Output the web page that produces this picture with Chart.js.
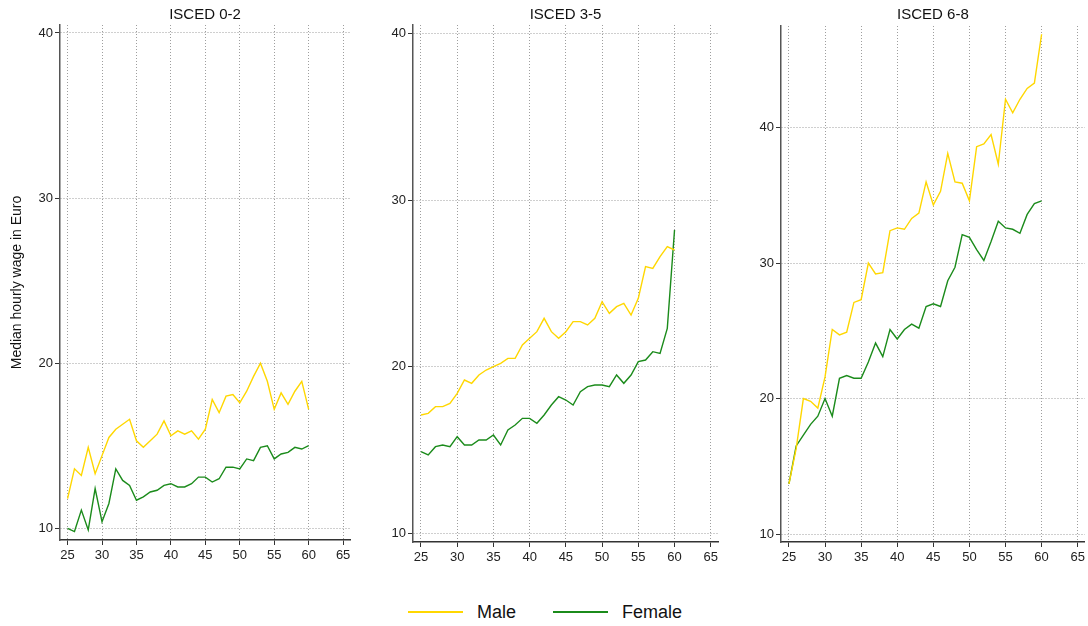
<!DOCTYPE html>
<html>
<head>
<meta charset="utf-8">
<script src="https://cdn.jsdelivr.net/npm/chart.js@4.4.1/dist/chart.umd.min.js"></script>
<style>
  body { margin: 0; background: #fff; font-family: "Liberation Sans", Arial, sans-serif; }
  #wrap { position: relative; width: 1088px; height: 626px; overflow: hidden; }
  .panel { position: absolute; top: 0; }
  .legend-line { position: absolute; height: 2px; top: 611px; width: 55px; }
  .legend-text { position: absolute; top: 601px; font-size: 18px; color: #111; line-height: 22px; }
</style>
</head>
<body>
<div id="wrap">
  <div class="panel" style="left:0px;width:360px;height:580px"><canvas id="p1"></canvas></div>
  <div class="panel" style="left:360px;width:370px;height:582px"><canvas id="p2"></canvas></div>
  <div class="panel" style="left:730px;width:358px;height:582px"><canvas id="p3"></canvas></div>

  <div class="legend-line" style="left:408px;background:#FFD700"></div>
  <div class="legend-text" style="left:477px">Male</div>
  <div class="legend-line" style="left:553px;background:#1b8b1b"></div>
  <div class="legend-text" style="left:622px">Female</div>
</div>
<script>
// Age on the x axis
const ages = [25, 26, 27, 28, 29, 30, 31, 32, 33, 34, 35, 36, 37, 38, 39, 40, 41, 42,
              43, 44, 45, 46, 47, 48, 49, 50, 51, 52, 53, 54, 55, 56, 57, 58, 59, 60];

const xTicks = [25, 30, 35, 40, 45, 50, 55, 60, 65];
const yTicks = [10, 20, 30, 40];
const panelTitles = ['ISCED 0-2', 'ISCED 3-5', 'ISCED 6-8'];

// Median hourly wage, ISCED 0-2
const maleLow = [11.8, 13.6, 13.2, 14.9, 13.3, 14.4, 15.5, 16.0, 16.3, 16.6, 15.3, 14.9,
                 15.3, 15.7, 16.5, 15.6, 15.9, 15.7, 15.9, 15.4, 16.0, 17.8, 17.0, 18.0,
                 18.1, 17.6, 18.3, 19.2, 20.0, 18.9, 17.2, 18.2, 17.5, 18.3, 18.9, 17.2];
const femaleLow = [10.0, 9.8, 11.1, 9.9, 12.4, 10.4, 11.5, 13.6, 12.9, 12.6, 11.7, 11.9,
                   12.2, 12.3, 12.6, 12.7, 12.5, 12.5, 12.7, 13.1, 13.1, 12.8, 13.0, 13.7,
                   13.7, 13.6, 14.2, 14.1, 14.9, 15.0, 14.2, 14.5, 14.6, 14.9, 14.8, 15.0];

// ISCED 3-5
const maleMid = [17.1, 17.2, 17.6, 17.6, 17.8, 18.4, 19.2, 19.0, 19.5, 19.8, 20.0, 20.2,
                 20.5, 20.5, 21.3, 21.7, 22.1, 22.9, 22.1, 21.7, 22.1, 22.7, 22.7, 22.5,
                 22.9, 23.9, 23.2, 23.6, 23.8, 23.1, 24.1, 26.0, 25.9, 26.6, 27.2, 27.0];
const femaleMid = [14.9, 14.7, 15.2, 15.3, 15.2, 15.8, 15.3, 15.3, 15.6, 15.6, 15.9, 15.3,
                   16.2, 16.5, 16.9, 16.9, 16.6, 17.1, 17.7, 18.2, 18.0, 17.7, 18.5, 18.8,
                   18.9, 18.9, 18.8, 19.5, 19.0, 19.5, 20.3, 20.4, 20.9, 20.8, 22.3, 28.2];

// ISCED 6-8
const maleHigh = [13.7, 16.3, 20.0, 19.8, 19.3, 21.6, 25.1, 24.7, 24.9, 27.1, 27.3, 30.0,
                  29.2, 29.3, 32.4, 32.6, 32.5, 33.3, 33.7, 36.0, 34.3, 35.3, 38.1, 36.0,
                  35.9, 34.6, 38.6, 38.8, 39.5, 37.3, 42.1, 41.1, 42.1, 42.9, 43.3, 46.9];
const femaleHigh = [13.7, 16.5, 17.3, 18.1, 18.7, 20.0, 18.7, 21.5, 21.7, 21.5, 21.5, 22.7,
                    24.1, 23.1, 25.1, 24.4, 25.1, 25.5, 25.2, 26.8, 27.0, 26.8, 28.7, 29.7,
                    32.1, 31.9, 31.0, 30.2, 31.6, 33.1, 32.6, 32.5, 32.2, 33.6, 34.4, 34.6];

const MALE_COLOR = '#FFD700';
const FEMALE_COLOR = '#1b8b1b';
const FONT = "'Liberation Sans', Arial, sans-serif";

const toPoints = vals => vals.map((v, i) => ({ x: ages[i], y: v }));

// shared grid look: dotted light grey lines, solid dark tick marks
const gridOpts = () => ({
  color: 'rgba(0,0,0,0.38)', lineWidth: 1,
  tickColor: '#333', tickLength: 5, tickBorderDash: []
});

function makePanel(id, title, male, female, opts) {
  const ctx = document.getElementById(id).getContext('2d');
  return new Chart(ctx, {
    type: 'line',
    data: {
      datasets: [
        { label: 'Male', data: toPoints(male), borderColor: MALE_COLOR, borderWidth: 1.4,
          pointRadius: 0, tension: 0, fill: false },
        { label: 'Female', data: toPoints(female), borderColor: FEMALE_COLOR, borderWidth: 1.4,
          pointRadius: 0, tension: 0, fill: false }
      ]
    },
    options: {
      responsive: true,
      maintainAspectRatio: false,
      animation: false,
      layout: { padding: { right: opts.padRight, left: 0, top: 0, bottom: 0 } },
      plugins: {
        legend: { display: false },
        tooltip: { enabled: false },
        title: {
          display: true,
          text: title,
          fullSize: false,
          color: '#111',
          font: { family: FONT, size: 15, weight: 'normal' },
          padding: { top: 6, bottom: opts.titleBottom }
        }
      },
      scales: {
        x: {
          type: 'linear',
          min: 23.9,
          max: 66,
          afterBuildTicks: s => { s.ticks = xTicks.map(v => ({ value: v })); },
          afterFit: s => { s.height = 40; },
          ticks: { color: '#222', font: { family: FONT, size: 13 }, padding: 3, maxRotation: 0 },
          grid: gridOpts(),
          border: { display: true, color: '#333', width: 1.5, dash: [1, 2] }
        },
        y: {
          type: 'linear',
          min: opts.yMin,
          max: opts.yMax,
          afterBuildTicks: s => { s.ticks = yTicks.map(v => ({ value: v })); },
          afterFit: s => { s.width = opts.yWidth; },
          ticks: { color: '#222', font: { family: FONT, size: 13 }, padding: 2 },
          grid: gridOpts(),
          border: { display: true, color: '#555', width: 1.5, dash: [1, 2] },
          title: {
            display: !!opts.yTitle,
            text: opts.yTitle || '',
            color: '#111',
            font: { family: FONT, size: 14 },
            padding: { top: 9, bottom: 0 }
          }
        }
      }
    }
  });
}

makePanel('p1', panelTitles[0], maleLow, femaleLow,
  { yMin: 9.29, yMax: 40.48, yWidth: 60, padRight: 10, titleBottom: 1,
    yTitle: 'Median hourly wage in Euro' });
makePanel('p2', panelTitles[1], maleMid, femaleMid,
  { yMin: 9.48, yMax: 40.5, yWidth: 53, padRight: 12, titleBottom: 1 });
makePanel('p3', panelTitles[2], maleHigh, femaleHigh,
  { yMin: 9.41, yMax: 47.51, yWidth: 51, padRight: 2, titleBottom: 2 });
</script>
</body>
</html>
